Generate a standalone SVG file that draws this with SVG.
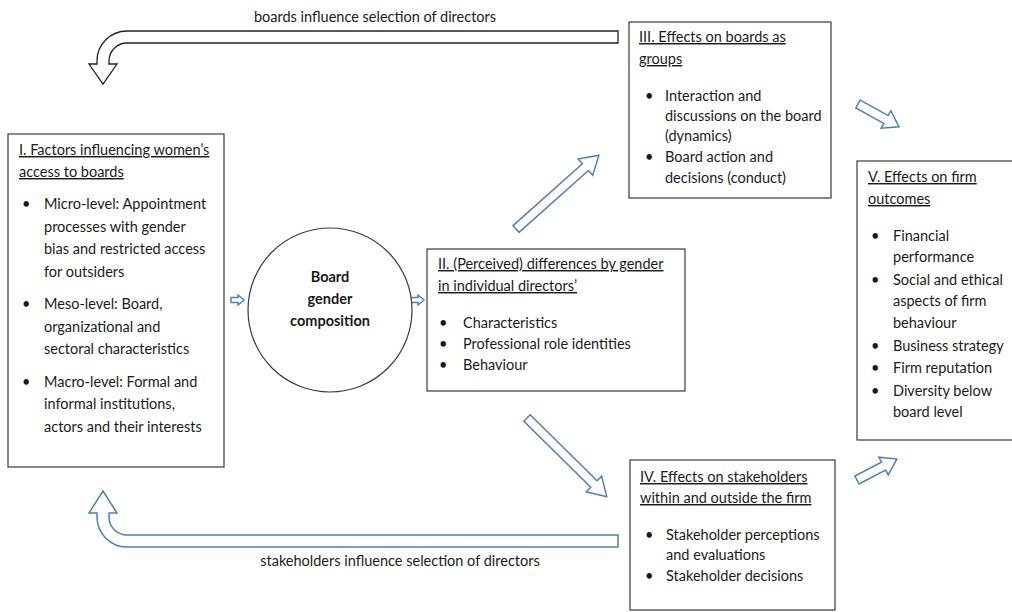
<svg xmlns="http://www.w3.org/2000/svg" width="1012" height="612" viewBox="0 0 1012 612">
<style>
.box{fill:#fff;stroke:#3a3a3a;stroke-width:1.2}
.t{font-family:Lato,"Open Sans","Liberation Sans",sans-serif;font-size:14.5px;fill:#1a1a1a}
.u{text-decoration:underline}
.b{font-weight:bold;text-anchor:middle}
.ba{fill:#fff;stroke:#4f7fb8;stroke-width:1.5;stroke-linejoin:miter}
.bk{fill:#fff;stroke:#222;stroke-width:1.3}
</style>
<rect width="1012" height="612" fill="#fff"/>
<g id="connectors">
<path class="bk" d="M618,31 L127,31 A30,30 0 0 0 97,61 L97,64 L89,64 L103,84 L117,64 L109,64 L109,61 A18,18 0 0 1 127,43 L618,43 Z"/>
<path class="ba" d="M618,547 L127,547 A30,30 0 0 1 97,517 L97,513 L89,513 L103,491 L117,513 L109,513 L109,517 A18,18 0 0 0 127,535 L618,535 Z"/>
<path class="ba" d="M231,297.5 L238,297.5 L238,295 L244,300 L238,305 L238,302.5 L231,302.5 Z"/>
<path class="ba" d="M411,297.5 L418,297.5 L418,295 L424,300 L418,305 L418,302.5 L411,302.5 Z"/>
<path class="ba" transform="translate(516,229) rotate(-41.7)" d="M0,-4.5 L93,-4.5 L93,-11 L111,0 L93,11 L93,4.5 L0,4.5 Z"/>
<path class="ba" transform="translate(527,418) rotate(44.6)" d="M0,-4.5 L94,-4.5 L94,-11 L112,0 L94,11 L94,4.5 L0,4.5 Z"/>
<path class="ba" transform="translate(858,104) rotate(29)" d="M0,-4.5 L32,-4.5 L32,-10 L47,0 L32,10 L32,4.5 L0,4.5 Z"/>
<path class="ba" transform="translate(857,480) rotate(-27.7)" d="M0,-4.5 L30,-4.5 L30,-10 L45,0 L30,10 L30,4.5 L0,4.5 Z"/>
<text class="t" x="375" y="22" text-anchor="middle">boards influence selection of directors</text>
<text class="t" x="400" y="566" text-anchor="middle">stakeholders influence selection of directors</text>
</g>
<g id="node1">
<rect class="box" x="8" y="134" width="216" height="333"/>
<text class="t u" x="19" y="155">I. Factors influencing women’s</text>
<text class="t u" x="19" y="177">access to boards</text>
<text class="t" x="22" y="209">•</text>
<text class="t" x="44" y="209">Micro-level: Appointment</text>
<text class="t" x="44" y="232">processes with gender</text>
<text class="t" x="44" y="254">bias and restricted access</text>
<text class="t" x="44" y="277">for outsiders</text>
<text class="t" x="22" y="309">•</text>
<text class="t" x="44" y="309">Meso-level: Board,</text>
<text class="t" x="44" y="332">organizational and</text>
<text class="t" x="44" y="354">sectoral characteristics</text>
<text class="t" x="22" y="387">•</text>
<text class="t" x="44" y="387">Macro-level: Formal and</text>
<text class="t" x="44" y="409">informal institutions,</text>
<text class="t" x="44" y="432">actors and their interests</text>
</g>
<g id="node2">
<circle cx="330" cy="310" r="82" fill="#fff" stroke="#3a3a3a" stroke-width="1.2"/>
<text class="t b" x="330" y="282">Board</text>
<text class="t b" x="330" y="304">gender</text>
<text class="t b" x="330" y="326">composition</text>
</g>
<g id="node3">
<rect class="box" x="427" y="249" width="258" height="142"/>
<text class="t u" x="438" y="269">II. (Perceived) differences by gender</text>
<text class="t u" x="438" y="291">in individual directors’</text>
<text class="t" x="439" y="328">•</text>
<text class="t" x="463" y="328">Characteristics</text>
<text class="t" x="439" y="349">•</text>
<text class="t" x="463" y="349">Professional role identities</text>
<text class="t" x="439" y="370">•</text>
<text class="t" x="463" y="370">Behaviour</text>
</g>
<g id="node4">
<rect class="box" x="629" y="22" width="202" height="176"/>
<text class="t u" x="639" y="42">III. Effects on boards as</text>
<text class="t u" x="639" y="64">groups</text>
<text class="t" x="645" y="101">•</text>
<text class="t" x="665" y="101">Interaction and</text>
<text class="t" x="665" y="121">discussions on the board</text>
<text class="t" x="665" y="141">(dynamics)</text>
<text class="t" x="645" y="162">•</text>
<text class="t" x="665" y="162">Board action and</text>
<text class="t" x="665" y="183">decisions (conduct)</text>
</g>
<g id="node5">
<rect class="box" x="630" y="460" width="205" height="150"/>
<text class="t u" x="640" y="482">IV. Effects on stakeholders</text>
<text class="t u" x="640" y="503">within and outside the firm</text>
<text class="t" x="645" y="540">•</text>
<text class="t" x="666" y="540">Stakeholder perceptions</text>
<text class="t" x="666" y="560">and evaluations</text>
<text class="t" x="645" y="581">•</text>
<text class="t" x="666" y="581">Stakeholder decisions</text>
</g>
<g id="node6">
<rect class="box" x="857" y="161" width="160" height="279"/>
<text class="t u" x="868" y="182">V. Effects on firm</text>
<text class="t u" x="868" y="204">outcomes</text>
<text class="t" x="871" y="241">•</text>
<text class="t" x="893" y="241">Financial</text>
<text class="t" x="893" y="262">performance</text>
<text class="t" x="871" y="285">•</text>
<text class="t" x="893" y="285">Social and ethical</text>
<text class="t" x="893" y="306">aspects of firm</text>
<text class="t" x="893" y="328">behaviour</text>
<text class="t" x="871" y="351">•</text>
<text class="t" x="893" y="351">Business strategy</text>
<text class="t" x="871" y="373">•</text>
<text class="t" x="893" y="373">Firm reputation</text>
<text class="t" x="871" y="396">•</text>
<text class="t" x="893" y="396">Diversity below</text>
<text class="t" x="893" y="417">board level</text>
</g>
</svg>
